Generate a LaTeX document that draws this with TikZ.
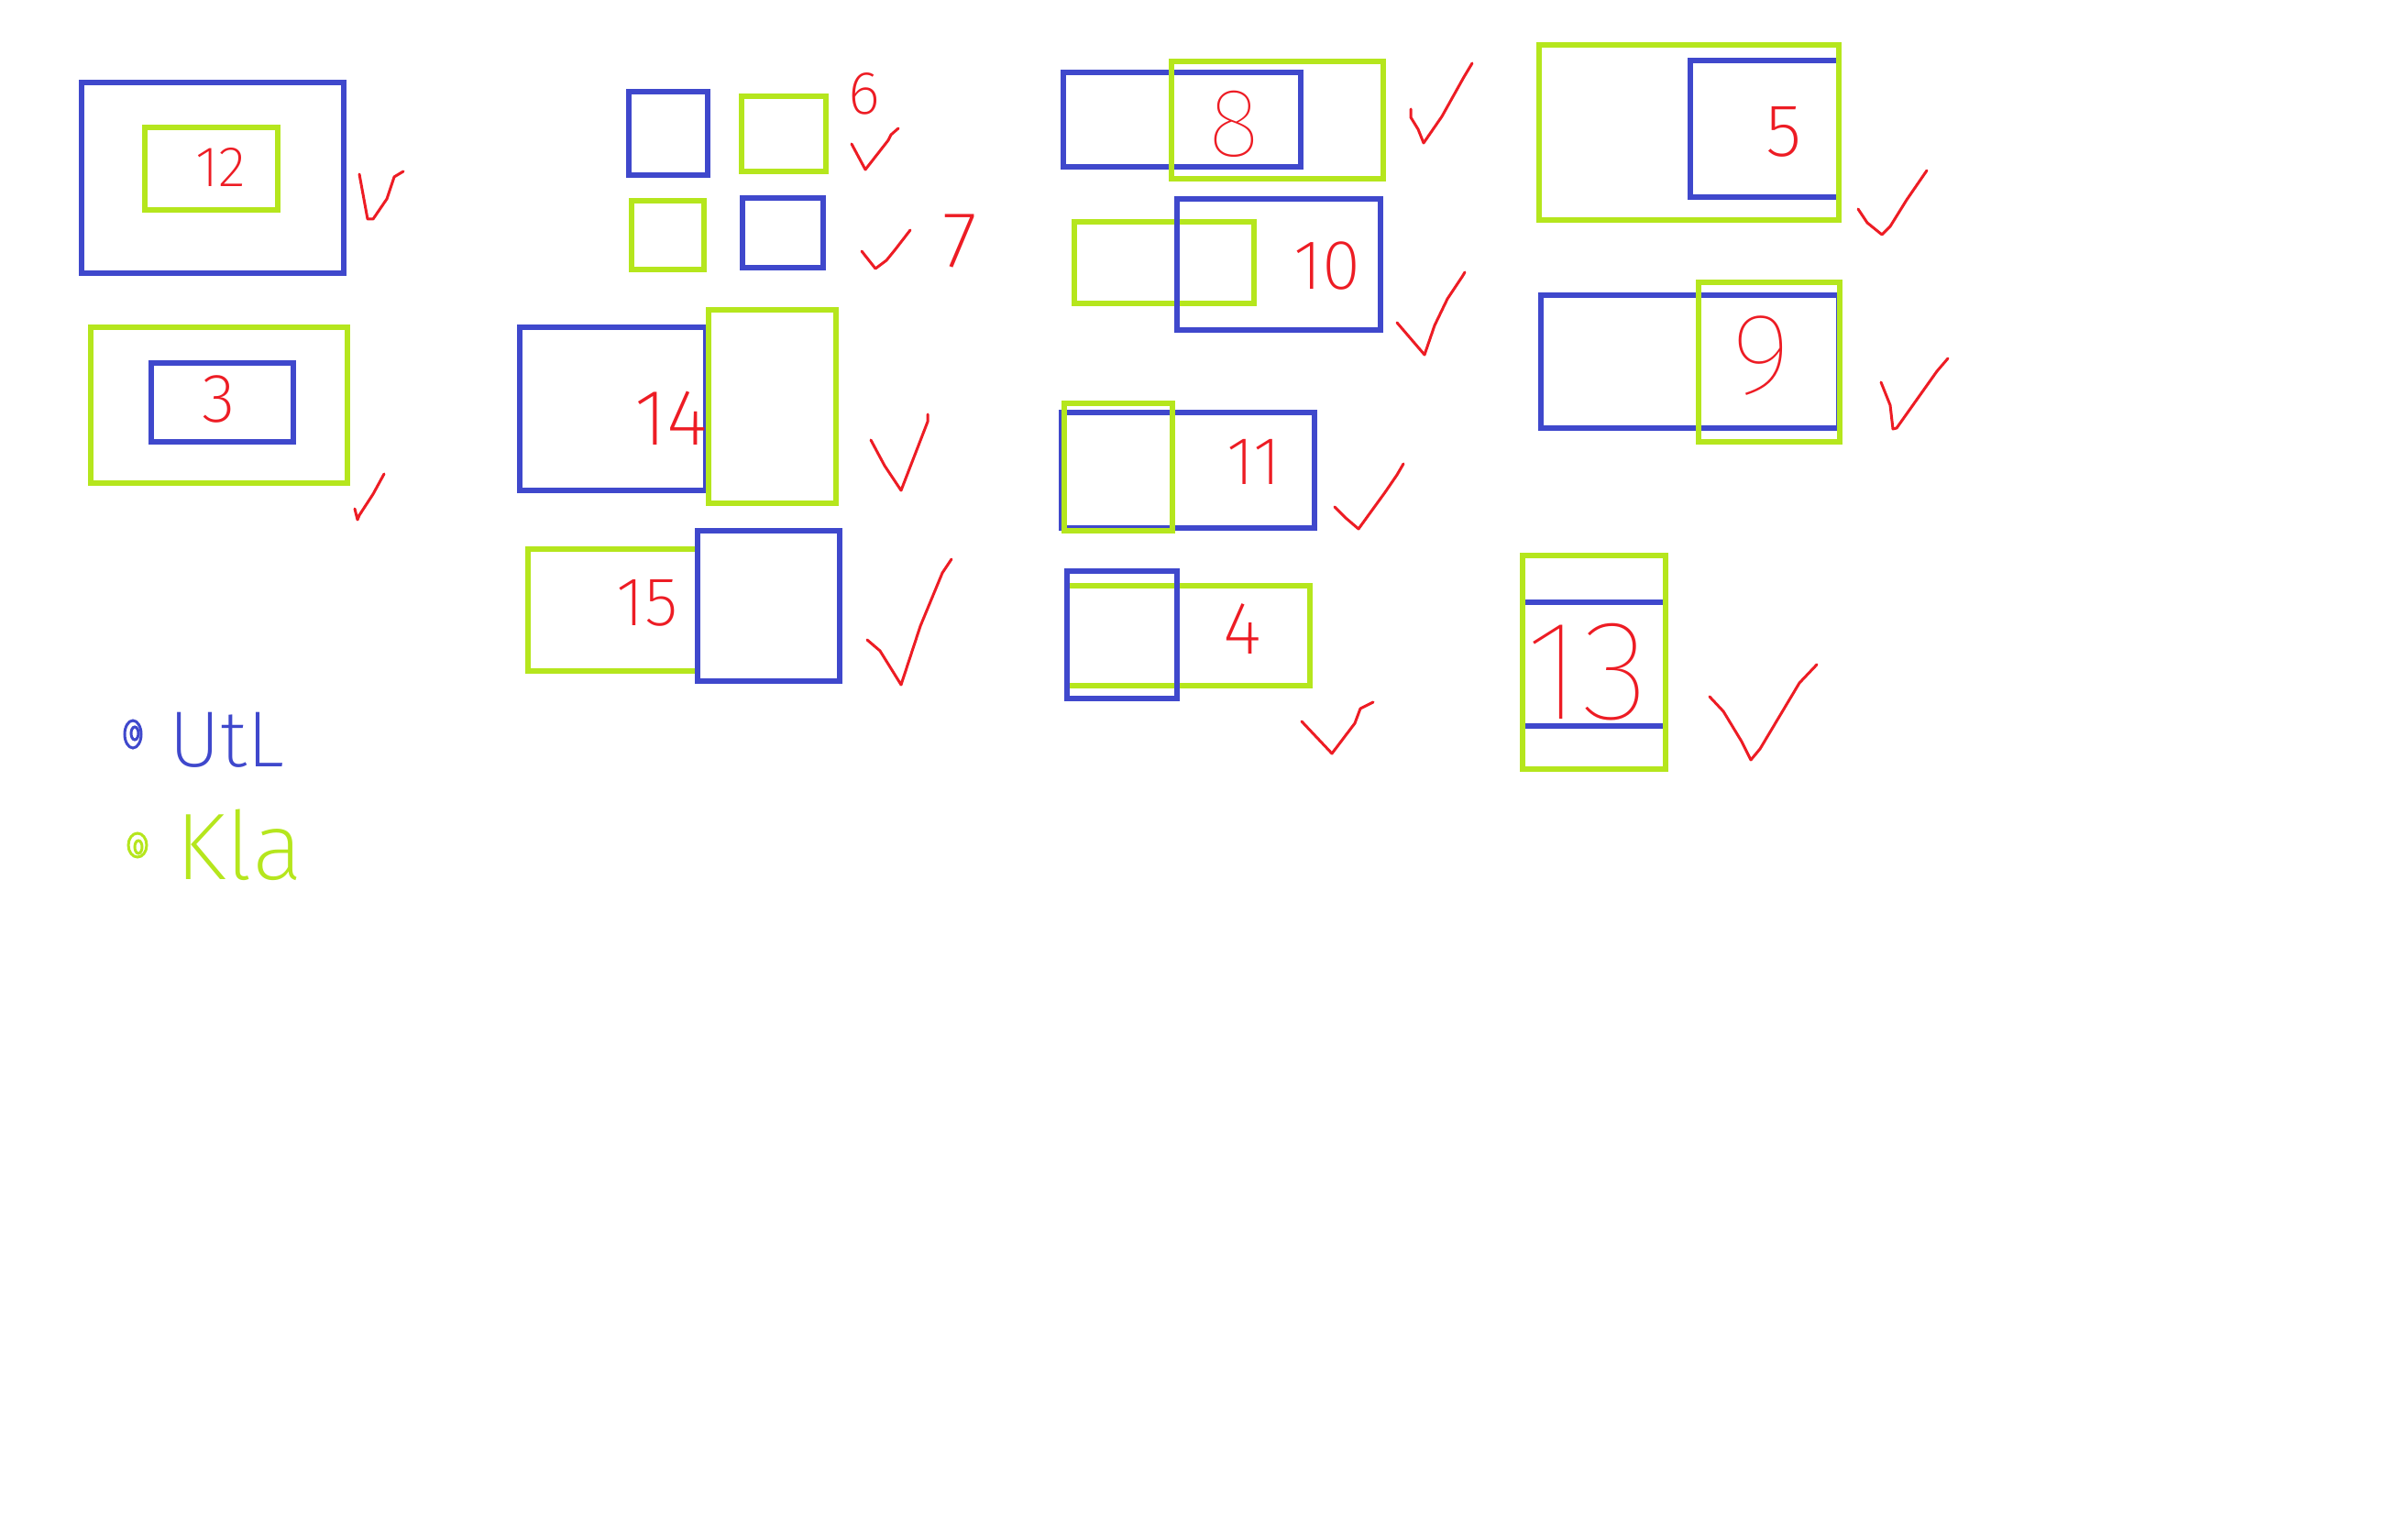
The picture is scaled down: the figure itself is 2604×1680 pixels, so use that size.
\documentclass[tikz,border=0pt]{standalone}
\usepackage{fontspec}
\newfontfamily\handfont{Fira Sans ExtraLight}
\newfontfamily\handthin{Fira Sans Thin}
\definecolor{paintblue}{RGB}{63,72,204}
\definecolor{paintlime}{RGB}{181,230,29}
\definecolor{paintred}{RGB}{237,28,36}
\begin{document}
\begin{tikzpicture}[x=0.3pt, y=-0.3pt,
  bluebox/.style={draw=paintblue, line width=1.6pt},
  limebox/.style={draw=paintlime, line width=1.6pt},
  tick/.style={draw=paintred, line width=0.9pt, line join=round, line cap=round},
  hw/.style={text=paintred, inner sep=0pt, font=\handfont\fontsize{#1}{#1}\selectfont},
  hwbig/.style={text=paintred, inner sep=0pt, font=\handthin\fontsize{#1}{#1}\selectfont},
  lgd/.style={inner sep=0pt, font=\handfont\fontsize{#1}{#1}\selectfont}]
\useasboundingbox (0,0) rectangle (2604,1680);
\fill[white] (0,0) rectangle (2604,1680);
% 12
\draw[bluebox] (89,90) rectangle (375,298);
\draw[limebox] (158,139) rectangle (303,229);
\node[hw=18.7pt] (n12) at (241,182) {12};
\draw[tick] (392,190) -- (401,239) -- (407,239) -- (422,217) -- (430,193) -- (440,187);
% 3
\draw[limebox] (99,357) rectangle (379,527);
\draw[bluebox] (165,396) rectangle (320,482);
\node[hw=22.6pt] (n3) at (239,435) {3};
\draw[tick] (419,517) -- (407,539) -- (392,562) -- (390,567) -- (387,555);
% 6
\draw[bluebox] (686,100) rectangle (772,191);
\draw[limebox] (809,105) rectangle (901,187);
\node[hw=20pt] (n6) at (943,102) {6};
\draw[tick] (929,157) -- (944,185) -- (969,153) -- (972,147) -- (980,140);
% 7
\draw[limebox] (689,219) rectangle (768,294);
\draw[bluebox] (810,216) rectangle (898,292);
\draw[tick] (940,274) -- (955,293) -- (967,284) -- (976,273) -- (993,251);
\node[hw=26pt] (n7) at (1047,263) {7};
% 14
\draw[bluebox] (567,357) rectangle (770,535);
\draw[limebox] (773,338) rectangle (912,549);
\node[hw=26pt] (n14) at (732,456) {14};
\draw[tick] (950,480) -- (965,508) -- (983,535) -- (1012,460) -- (1012,452);
% 15
\draw[limebox] (576,599) rectangle (761,732);
\draw[bluebox] (761,579) rectangle (916,743);
\node[hw=22.6pt] (n15) at (706,658) {15};
\draw[tick] (946,698) -- (960,710) -- (983,747) -- (1004,683) -- (1028,625) -- (1038,610);
% 8
\draw[bluebox] (1160,79) rectangle (1419,182);
\draw[limebox] (1278,67) rectangle (1509,195);
\node[hwbig=31.8pt] (n8) at (1346,135) {8};
\draw[tick] (1539,119) -- (1539,128) -- (1547,141) -- (1553,156) -- (1573,127) -- (1597,84) -- (1606,69);
% 10
\draw[limebox] (1172,242) rectangle (1368,331);
\draw[bluebox] (1284,217) rectangle (1506,360);
\node[hw=23pt] (n10) at (1448,290) {10};
\draw[tick] (1524,352) -- (1536,366) -- (1554,387) -- (1565,355) -- (1579,326) -- (1595,302) -- (1598,297);
% 11
\draw[bluebox] (1158,450) rectangle (1434,576);
\draw[limebox] (1161,440) rectangle (1279,579);
\node[hw=22.2pt] (n11) at (1368,504) {11};
\draw[tick] (1456,553) -- (1468,565) -- (1482,577) -- (1511,537) -- (1524,518) -- (1531,506);
% 4
\draw[limebox] (1164,639) rectangle (1429,748);
\draw[bluebox] (1164,623) rectangle (1284,762);
\node[hw=24.4pt] (n4) at (1355,686) {4};
\draw[tick] (1420,787) -- (1453,822) -- (1478,789) -- (1484,773) -- (1498,766);
% 5
\draw[bluebox] (1844,66) rectangle (2006,215);
\draw[limebox] (1679,49) rectangle (2006,240);
\node[hw=24.4pt] (n5) at (1946,144) {5};
\draw[tick] (2027,228) -- (2037,243) -- (2053,256) -- (2062,247) -- (2080,218) -- (2102,186);
% 9
\draw[bluebox] (1681,322) rectangle (2006,467);
\draw[limebox] (1853,308) rectangle (2007,482);
\node[hwbig=37.8pt] (n9) at (1921,388) {9};
\draw[tick] (2052,417) -- (2062,442) -- (2065,468) -- (2069,467) -- (2113,405) -- (2125,391);
% 13
\draw[bluebox] (1661,657) -- (1817,657) (1661,792) -- (1817,792);
\draw[limebox] (1661,606) rectangle (1817,839);
\node[hwbig=46.5pt] (n13) at (1732,733) {13};
\draw[tick] (1865,760) -- (1880,776) -- (1900,809) -- (1910,829) -- (1920,817) -- (1963,745) -- (1982,725);
% legend
\draw[paintblue, line width=0.9pt] (145,801) ellipse [x radius=9, y radius=15];
\draw[paintblue, line width=0.9pt] (147,800) ellipse [x radius=4, y radius=7];
\node[lgd=26pt, text=paintblue] (utl) at (247,807) {UtL};
\draw[paintlime, line width=0.9pt] (150,922) ellipse [x radius=10, y radius=13];
\draw[paintlime, line width=0.9pt] (151,924) ellipse [x radius=4, y radius=7];
\node[lgd=31pt, text=paintlime] (kla) at (261,922) {Kla};
\end{tikzpicture}
\end{document}
